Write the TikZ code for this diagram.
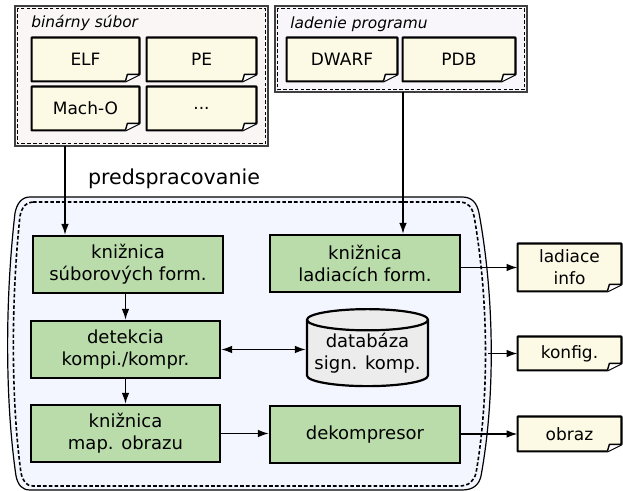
\documentclass[tikz,border=0pt]{standalone}
\usepackage{fontspec}
\setmainfont{DejaVu Sans}
\usepackage{tikz}
\usetikzlibrary{arrows.meta,shapes.geometric}
\definecolor{boxgreen}{RGB}{185,220,170}
\definecolor{notefill}{RGB}{252,250,229}
\definecolor{binbg}{RGB}{250,246,246}
\definecolor{ladbg}{RGB}{249,246,251}
\definecolor{prebg}{RGB}{243,246,254}
\definecolor{dbgray}{RGB}{236,236,236}

% folded corner of a note node, #2 = colour behind it
\newcommand{\noteear}[2]{%
  \fill[#2] ([yshift=3.5pt]#1.south east) -- (#1.south east) -- ([xshift=-7pt]#1.south east) -- cycle;
  \draw[line width=1.1pt, line join=round] (#1.north west) -- (#1.north east) -- ([yshift=3.5pt]#1.south east) -- ([xshift=-7pt]#1.south east) -- (#1.south west) -- cycle;
  \draw[line width=0.7pt, line join=round, fill=white] ([yshift=3.5pt]#1.south east) -- ([xshift=-6pt,yshift=3.5pt]#1.south east) -- ([xshift=-7pt]#1.south east);}

\begin{document}
\begin{tikzpicture}[x=0.5pt,y=-0.5pt,
    every node/.style={font=\fontsize{9}{11}\selectfont, align=center, inner sep=0pt},
    greenbox/.style={draw, line width=1.1pt, fill=boxgreen, minimum width=95pt, minimum height=28.5pt},
    notebox/.style={fill=notefill, minimum width=54pt, minimum height=21.5pt, font=\fontsize{8.5}{11}\selectfont},
    groupbox/.style={draw=black!75, line width=0.6pt},
    dashbox/.style={draw, line width=0.8pt, dash pattern=on 1.8pt off 1.1pt},
    grouptitle/.style={anchor=west, font=\fontsize{7.7}{9}\selectfont\itshape},
    arr/.style={-{Latex[length=5.5pt,width=3.8pt]}, line width=0.8pt},
    arrboth/.style={{Latex[length=5.5pt,width=3.8pt]}-{Latex[length=5.5pt,width=3.8pt]}, line width=0.8pt}]
    \useasboundingbox (0,0) rectangle (623,491);

    % input groups
    \node[groupbox, fill=binbg, minimum width=126.5pt, minimum height=70pt] (bin) at (141.5,76) {};
    \draw[dashbox] ([shift={(3,3)}]bin.north west) rectangle ([shift={(-3,-3)}]bin.south east);
    \node[grouptitle] (bintitle) at (31,23) {binárny súbor};
    \node[notebox, minimum width=53.5pt] (elf) at (85.5,59.5) {ELF};
    \noteear{elf}{binbg}
    \node[notebox, minimum width=54.5pt] (pe) at (201.5,59.5) {PE};
    \noteear{pe}{binbg}
    \node[notebox, minimum width=53.5pt] (macho) at (85.5,108.5) {Mach-O};
    \noteear{macho}{binbg}
    \node[notebox, minimum width=54.5pt] (other) at (201.5,108.5) {...};
    \noteear{other}{binbg}

    \node[groupbox, fill=ladbg, minimum width=126pt, minimum height=43pt] (lad) at (401,49) {};
    \draw[dashbox] ([shift={(3,3)}]lad.north west) rectangle ([shift={(-3,-3)}]lad.south east);
    \node[grouptitle] (ladtitle) at (290,24) {ladenie programu};
    \node[notebox, minimum width=55pt] (dwarf) at (342,59.5) {DWARF};
    \noteear{dwarf}{ladbg}
    \node[notebox, minimum width=56pt] (pdb) at (459,59.5) {PDB};
    \noteear{pdb}{ladbg}

    % predspracovanie
    \node[font=\fontsize{10.3}{12}\selectfont] (pretitle) at (174,179) {predspracovanie};
    \draw[line width=0.6pt, fill=prebg] (30,197) -- (462,197) .. controls (472,197) and (477,203) .. (479,213)
        .. controls (495,300) and (495,400) .. (481,476) .. controls (479,485) and (473,490) .. (462,490)
        -- (30,490) .. controls (22,490) and (18,485) .. (16,476) .. controls (5,400) and (5,300) .. (15,213)
        .. controls (17,203) and (22,197) .. (30,197) -- cycle;
    \draw[dashbox] (33,202) -- (459,202) .. controls (468,202) and (472,207) .. (474,216)
        .. controls (489,300) and (489,400) .. (476,473) .. controls (474,481) and (469,486) .. (459,486)
        -- (33,486) .. controls (26,486) and (23,481) .. (21,473) .. controls (11,400) and (11,300) .. (20,216)
        .. controls (22,207) and (26,202) .. (33,202) -- cycle;

    \node[greenbox] (subor) at (128,264.5) {knižnica\\súborových form.};
    \node[greenbox] (ladiace) at (365,263.5) {knižnica\\ladiacích form.};
    \node[greenbox, minimum width=94.5pt] (detekcia) at (125.5,349.5) {detekcia\\kompi./kompr.};
    \node[greenbox, minimum width=94.5pt] (mapa) at (125.5,433.5) {knižnica\\map. obrazu};
    \node[greenbox] (dekomp) at (365,434.5) {dekompresor};
    \node[cylinder, shape border rotate=90, aspect=0.2, draw, line width=1.1pt, fill=dbgray,
        minimum width=60.5pt, minimum height=38.5pt] (db) at (367.5,353.5) {databáza\\sign. komp.};

    % outputs
    \node[notebox, minimum width=51.5pt, minimum height=23.5pt] (info) at (569.5,267.5) {ladiace\\info};
    \noteear{info}{white}
    \node[notebox, minimum width=51.5pt, minimum height=16.5pt] (konfig) at (569.5,353.5) {konfig.};
    \noteear{konfig}{white}
    \node[notebox, minimum width=51.5pt, minimum height=17pt] (obraz) at (569.5,434) {obraz};
    \noteear{obraz}{white}

    % connectors
    \coordinate (binout) at (65,146);
    \coordinate (ladout) at (403,92);
    \coordinate (preout) at (488,353.5);
    \draw[arr] (binout) -- (binout |- subor.north);
    \draw[arr] (ladout) -- (ladout |- ladiace.north);
    \draw[arr] (subor.south -| detekcia.north) -- (detekcia.north);
    \draw[arr] (detekcia.south) -- (mapa.north);
    \draw[arrboth] (detekcia.east) -- (detekcia.east -| db.west);
    \draw[arr] (mapa.east) -- (mapa.east -| dekomp.west);
    \draw[arr] (ladiace.east |- info) -- (info.west);
    \draw[arr] (preout) -- (konfig.west);
    \draw[arr] (dekomp.east |- obraz) -- (obraz.west);
\end{tikzpicture}
\end{document}
